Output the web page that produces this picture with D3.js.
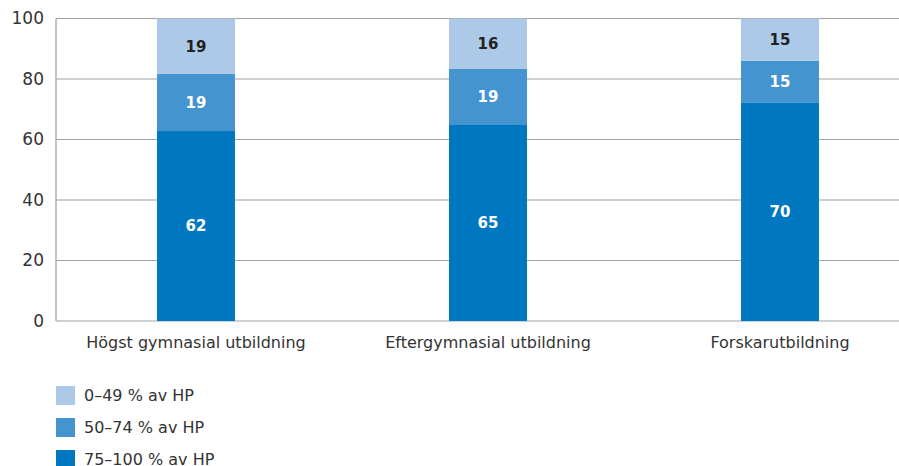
<!DOCTYPE html>
<html><head><meta charset="utf-8">
<script src="https://cdn.jsdelivr.net/npm/d3@7"></script>
<style>body{margin:0;background:#fff}svg{display:block}text{font-family:"DejaVu Sans",Verdana,sans-serif}</style>
</head><body>
<svg id="c" width="899" height="466"></svg>
<script>
const categories = ["Högst gymnasial utbildning", "Eftergymnasial utbildning", "Forskarutbildning"];
const seriesNames = ["75–100 % av HP", "50–74 % av HP", "0–49 % av HP"];
const high = [62.8, 64.8, 72.1];
const mid = [18.9, 18.5, 13.9];
const low = [18.3, 16.7, 14.0];
const highLabels = ["62", "65", "70"];
const midLabels = ["19", "19", "15"];
const lowLabels = ["19", "16", "15"];
const yTicks = [0, 20, 40, 60, 80, 100];
const colors = ["#0077c1", "#4494d0", "#adc9e8"];
const labelColors = ["#ffffff", "#ffffff", "#222222"];

const svg = d3.select("#c");
const x = d3.scaleBand().domain(categories).range([50, 926]).paddingInner(0.733).paddingOuter(0.3665);
const y = d3.scaleLinear().domain([0, 100]).range([321, 18.5]);

// gridlines
svg.append("g").selectAll("line").data(yTicks).join("line")
  .attr("x1", 56).attr("x2", 899).attr("y1", d => y(d)).attr("y2", d => y(d))
  .attr("stroke", "#a0a0a0").attr("stroke-width", 1);
svg.append("line").attr("x1", 56).attr("x2", 56).attr("y1", y(100)).attr("y2", y(0))
  .attr("stroke", "#b0b0b0").attr("stroke-width", 1.5);

// y tick labels
const yAxis = d3.axisLeft(y).tickValues(yTicks).tickSize(0).tickPadding(12);
const ya = svg.append("g").attr("transform", "translate(56,0)").call(yAxis);
ya.select(".domain").remove();
ya.selectAll("text").attr("font-size", 17).attr("fill", "#333").attr("font-family", "DejaVu Sans, Verdana, sans-serif");

// stacked data
const rows = categories.map((c, i) => ({cat: c, s0: high[i], s1: mid[i], s2: low[i]}));
const labels = [highLabels, midLabels, lowLabels];
const stack = d3.stack().keys(["s0", "s1", "s2"])(rows);

stack.forEach((layer, li) => {
  const g = svg.append("g");
  g.selectAll("rect").data(layer).join("rect")
    .attr("x", d => x(d.data.cat))
    .attr("width", x.bandwidth())
    .attr("y", d => y(d[1]))
    .attr("height", d => y(d[0]) - y(d[1]))
    .attr("fill", colors[li]);
  g.selectAll("text").data(layer).join("text")
    .attr("x", d => x(d.data.cat) + x.bandwidth() / 2)
    .attr("y", d => (y(d[0]) + y(d[1])) / 2)
    .attr("dy", "0.36em")
    .attr("text-anchor", "middle")
    .attr("font-family", "Liberation Sans, Arial, sans-serif")
    .attr("font-weight", "bold")
    .attr("font-size", 15)
    .attr("fill", labelColors[li])
    .text((d, i) => labels[li][i]);
});

// x labels
const xAxis = d3.axisBottom(x).tickSize(0).tickPadding(16);
const xa = svg.append("g").attr("transform", "translate(0,321)").call(xAxis);
xa.select(".domain").remove();
xa.selectAll("text").attr("font-size", 16).attr("fill", "#333").attr("font-family", "DejaVu Sans, Verdana, sans-serif");

// legend
const legendOrder = [2, 1, 0];
const lg = svg.append("g").selectAll("g").data(legendOrder).join("g")
  .attr("transform", (d, i) => `translate(56,${386 + i * 32})`);
lg.append("rect").attr("width", 19).attr("height", 19).attr("fill", d => colors[d]);
lg.append("text").attr("x", 28).attr("y", 9.5).attr("dy", "0.36em")
  .attr("font-size", 16).attr("fill", "#333").text(d => seriesNames[d]);
</script>
</body></html>
